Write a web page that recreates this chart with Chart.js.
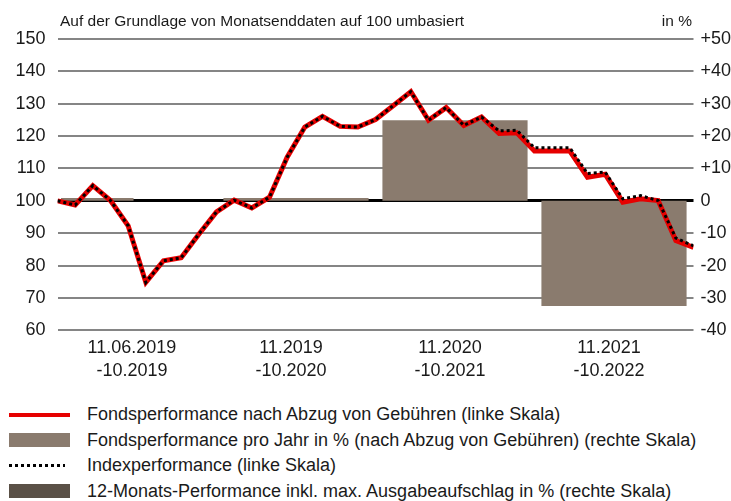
<!DOCTYPE html>
<html lang="de">
<head>
<meta charset="utf-8">
<title>Wertentwicklung</title>
<script src="https://cdn.jsdelivr.net/npm/chart.js@4.4.1/dist/chart.umd.min.js"></script>
<style>
  html, body { margin: 0; padding: 0; background: #fff; }
  body { width: 731px; height: 501px; position: relative; overflow: hidden;
         font-family: 'Liberation Sans', Arial, sans-serif; color: #1a1a1a; }
  #chartBox { position: absolute; left: 0; top: 0; width: 731px; height: 390px; }
  .note { position: absolute; top: 12px; font-size: 15.5px; white-space: nowrap; }
  #legend { position: absolute; left: 0; top: 402px; }
  .item { height: 25.5px; display: flex; align-items: center; font-size: 18px; white-space: nowrap; }
  .sym { display: block; width: 61px; margin-left: 9px; margin-right: 17px; }
</style>
</head>
<body>
<div id="chartBox"><canvas id="chart" width="731" height="390"></canvas></div>
<div class="note" style="left:60px">Auf der Grundlage von Monatsenddaten auf 100 umbasiert</div>
<div class="note" style="right:39px">in %</div>
<div id="legend"></div>
<script>
// Data
const periods = [['11.06.2019', '-10.2019'], ['11.2019', '-10.2020'], ['11.2020', '-10.2021'], ['11.2021', '-10.2022']];
const halfYears = ['06.2019-10.2019', '11.2019-04.2020', '05.2020-10.2020', '11.2020-04.2021',
                   '05.2021-10.2021', '11.2021-04.2022', '05.2022-10.2022', '11.2022-04.2023'];
const firstPeriodReturn = [0.9, null, null, null, null, null, null, null];
const yearlyReturn = [null, 0.9, 24.9, -32.5];
const fundIndexed = [100.0, 98.7, 104.7, 100.1, 92.3, 74.8, 81.5, 82.4, 89.7, 96.6, 100.2, 97.8, 101.1,
                     113.5, 122.8, 126.1, 123.0, 122.8, 125.1, 129.4, 133.7, 124.9, 128.8, 123.3, 125.9,
                     120.8, 121.0, 115.4, 115.4, 115.4, 107.3, 108.2, 99.6, 100.6, 100.1, 87.7, 85.6];
const indexIndexed = [100.0, 98.7, 104.7, 100.1, 92.3, 74.8, 81.5, 82.4, 89.7, 96.6, 100.2, 97.8, 101.1,
                      113.5, 122.8, 126.1, 123.0, 122.8, 125.1, 129.4, 133.7, 124.9, 128.8, 123.3, 125.9,
                      121.6, 121.8, 116.4, 116.4, 116.4, 108.4, 108.9, 100.6, 101.6, 100.1, 88.5, 86.1];
const leftRange = [60, 150];
const rightRange = [-40, 50];
const tickStep = 10;

Chart.defaults.font.family = "'Liberation Sans', Arial, sans-serif";
Chart.defaults.color = '#1a1a1a';

const RED = '#e60000';
const TAUPE = '#8a7b6e';
const DARK = '#5a5046';

const toPoints = arr => arr.map((v, i) => ({ x: i, y: v }));

const chart = new Chart(document.getElementById('chart'), {
    type: 'bar',
    data: {
        labels: periods,
        datasets: [
            {
                type: 'line',
                label: 'Fondsperformance nach Abzug von Gebühren (linke Skala)',
                data: toPoints(fundIndexed),
                xAxisID: 'xLine',
                yAxisID: 'y',
                borderColor: RED,
                borderWidth: 5,
                borderJoinStyle: 'miter',
                pointRadius: 0,
                tension: 0,
                order: 1
            },
            {
                label: 'Fondsperformance pro Jahr in % (nach Abzug von Gebühren) (rechte Skala)',
                data: yearlyReturn,
                xAxisID: 'x',
                yAxisID: 'y2',
                backgroundColor: TAUPE,
                grouped: false,
                categoryPercentage: 1,
                barPercentage: 0.913,
                order: 2
            },
            {
                type: 'line',
                label: 'Indexperformance (linke Skala)',
                data: toPoints(indexIndexed),
                xAxisID: 'xLine',
                yAxisID: 'y',
                borderColor: '#000',
                borderWidth: 3,
                borderDash: [3, 3],
                pointRadius: 0,
                tension: 0,
                order: 0
            },
            {
                label: '12-Monats-Performance inkl. max. Ausgabeaufschlag in % (rechte Skala)',
                data: [],
                xAxisID: 'x',
                yAxisID: 'y2',
                backgroundColor: DARK,
                grouped: false,
                hidden: true,
                order: 3
            },
            {
                // first, shorter period sits on half-year slots
                label: 'Fondsperformance pro Jahr in % (nach Abzug von Gebühren) (rechte Skala)',
                inLegend: false,
                data: firstPeriodReturn,
                xAxisID: 'xHalf',
                yAxisID: 'y2',
                backgroundColor: TAUPE,
                grouped: false,
                categoryPercentage: 1,
                barPercentage: 0.913,
                order: 2
            }
        ]
    },
    options: {
        responsive: false,
        animation: false,
        layout: { padding: { left: 15.5, right: 0, top: 39, bottom: 2 } },
        plugins: {
            legend: { display: false },
            tooltip: { enabled: false }
        },
        scales: {
            x: {
                position: 'bottom',
                offset: true,
                grid: { display: false, drawTicks: false, tickLength: 0 },
                border: { display: false },
                ticks: {
                    autoSkip: false,
                    maxRotation: 0,
                    padding: 6,
                    labelOffset: -5,
                    font: { size: 18, lineHeight: 1.27 }
                }
            },
            xHalf: {
                type: 'category',
                labels: halfYears,
                offset: true,
                display: false
            },
            xLine: {
                type: 'linear',
                min: 0,
                max: fundIndexed.length - 1,
                offset: false,
                display: false
            },
            y: {
                position: 'left',
                min: leftRange[0],
                max: leftRange[1],
                border: { display: false },
                grid: {
                    drawTicks: false,
                    tickLength: 0,
                    color: ctx => ctx.tick.value === 100 ? '#000' : '#858585',
                    lineWidth: ctx => ctx.tick.value === 100 ? 3 : 2
                },
                ticks: { stepSize: tickStep, padding: 12, font: { size: 18 } },
                afterFit: scale => { scale.width = 42; }
            },
            y2: {
                position: 'right',
                min: rightRange[0],
                max: rightRange[1],
                border: { display: false },
                grid: { display: false, drawTicks: false, tickLength: 0 },
                ticks: {
                    stepSize: tickStep,
                    padding: 7,
                    font: { size: 18 },
                    callback: v => v > 0 ? '+' + v : String(v)
                },
                afterFit: scale => { scale.width = 37.5; }
            }
        }
    }
});

// HTML legend, one entry per row
const legendBox = document.getElementById('legend');
chart.data.datasets.forEach(ds => {
    if (ds.inLegend === false) return;
    const row = document.createElement('div');
    row.className = 'item';
    const sym = document.createElement('span');
    sym.className = 'sym';
    if (ds.type === 'line' && ds.borderDash) {
        sym.style.height = '3px';
        sym.style.width = '56px';
        sym.style.marginRight = '22px';
        sym.style.background = `repeating-linear-gradient(90deg, ${ds.borderColor} 0 3px, transparent 3px 6px)`;
    } else if (ds.type === 'line') {
        sym.style.height = '4px';
        sym.style.background = ds.borderColor;
    } else {
        sym.style.height = '14px';
        sym.style.background = ds.backgroundColor;
    }
    const text = document.createElement('span');
    text.textContent = ds.label;
    row.appendChild(sym);
    row.appendChild(text);
    legendBox.appendChild(row);
});
</script>
</body>
</html>
